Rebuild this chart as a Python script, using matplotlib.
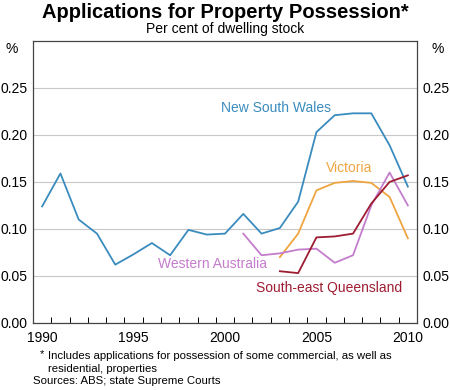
import matplotlib
matplotlib.use("Agg")
import matplotlib.pyplot as plt

plt.rcParams['font.family'] = ['Liberation Sans', 'DejaVu Sans']

years_nsw = list(range(1990, 2011))
nsw = [0.124, 0.159, 0.110, 0.095, 0.062, 0.073, 0.085, 0.072, 0.099, 0.094,
       0.095, 0.116, 0.095, 0.101, 0.129, 0.203, 0.221, 0.223, 0.223, 0.189, 0.145]

years_vic = list(range(2003, 2011))
vic = [0.070, 0.095, 0.141, 0.149, 0.151, 0.149, 0.134, 0.090]

years_wa = list(range(2001, 2011))
wa = [0.095, 0.072, 0.074, 0.078, 0.079, 0.064, 0.072, 0.125, 0.160, 0.125]

years_qld = list(range(2003, 2011))
qld = [0.055, 0.053, 0.091, 0.092, 0.095, 0.127, 0.150, 0.157]

yticks = [0.00, 0.05, 0.10, 0.15, 0.20, 0.25]
xlabels = [1990, 1995, 2000, 2005, 2010]

c_nsw = '#3a8cbe'
c_vic = '#eea540'
c_wa = '#c47ccc'
c_qld = '#9e1c32'

fig = plt.figure(figsize=(4.5, 3.9), dpi=100)
ax = fig.add_axes([0.0733, 0.172, 0.8534, 0.723])

ax.plot(years_nsw, nsw, color=c_nsw, lw=1.3)
ax.plot(years_vic, vic, color=c_vic, lw=1.3)
ax.plot(years_wa, wa, color=c_wa, lw=1.3)
ax.plot(years_qld, qld, color=c_qld, lw=1.3)

ax.set_xlim(1989.5, 2010.5)
ax.set_ylim(0, 0.30)
ax.set_yticks(yticks)
ax.set_yticklabels([f"{v:.2f}" for v in yticks], fontsize=10)
ax.tick_params(axis='y', length=0, pad=4, labelright=True, right=False)
ax.yaxis.grid(True, color='#c8c8c8', lw=0.8)
ax.set_axisbelow(True)

# ticks at year boundaries, labels at years
ax.set_xticks([y + 0.5 for y in range(1989, 2010)])
ax.set_xticklabels([])
ax.set_xticks(xlabels, minor=True)
ax.set_xticklabels([str(y) for y in xlabels], minor=True, fontsize=10)
ax.tick_params(axis='x', which='major', direction='in', length=4, width=0.7)
ax.tick_params(axis='x', which='minor', length=0, pad=6)

for s in ax.spines.values():
    s.set_color('#444444')
    s.set_linewidth(0.9)

ax.text(-0.055, 0.97, '%', transform=ax.transAxes, fontsize=10, ha='center', va='center')
ax.text(1.055, 0.97, '%', transform=ax.transAxes, fontsize=10, ha='center', va='center')

ax.text(2002.8, 0.229, 'New South Wales', color=c_nsw, fontsize=10, ha='center', va='center')
ax.text(2006.8, 0.165, 'Victoria', color=c_vic, fontsize=10, ha='center', va='center')
ax.text(1999.3, 0.063, 'Western Australia', color=c_wa, fontsize=10, ha='center', va='center')
ax.text(2005.7, 0.037, 'South-east Queensland', color=c_qld, fontsize=10, ha='center', va='center')

fig.text(0.5, 0.968, 'Applications for Property Possession*', fontsize=14.5,
         fontweight='bold', ha='center', va='center')
fig.text(0.5, 0.925, 'Per cent of dwelling stock', fontsize=10, ha='center', va='center')

fig.text(0.088, 0.092, '*', fontsize=8.2, ha='left', va='center')
fig.text(0.107, 0.088, 'Includes applications for possession of some commercial, as well as',
         fontsize=8.2, ha='left', va='center')
fig.text(0.107, 0.054, 'residential, properties', fontsize=8.2, ha='left', va='center')
fig.text(0.073, 0.023, 'Sources: ABS; state Supreme Courts', fontsize=8.2, ha='left', va='center')

fig.savefig('out.png', dpi=100)
